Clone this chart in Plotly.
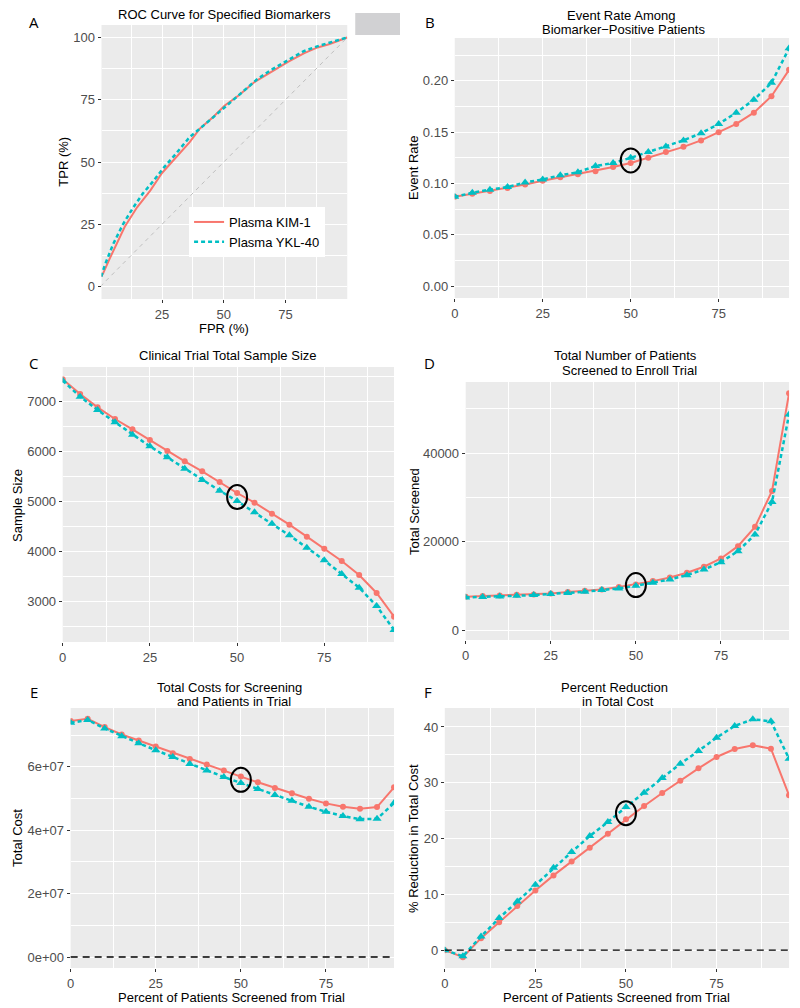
import plotly.graph_objects as go

# ROC curves (panel A)
fpr_kim = [0.4, 1.2, 3.9, 7.2, 9.9, 14.9, 20.3, 25, 30.4, 36.2, 40.2, 45.6, 50.4, 56, 62.7, 69.2, 76, 82.6, 88, 92.6, 100]
tpr_kim = [4, 5.4, 11.4, 18.7, 24, 31.8, 38.6, 45.6, 51.6, 58, 63.3, 68, 72.7, 76.7, 82.3, 86.3, 90.2, 93.7, 96, 97.3, 100]
fpr_ykl = [0.4, 1.8, 5.2, 9.2, 13.2, 17.2, 21.2, 25.5, 30.6, 36.2, 41.9, 47.3, 52.7, 58.1, 63.5, 68.9, 75, 82.4, 87.8, 95.9, 100]
tpr_ykl = [4, 8.5, 17, 25, 31.5, 37.3, 42, 47.5, 53.3, 60, 64.7, 69.3, 74, 78.7, 83.2, 86.8, 90.4, 94.5, 96.4, 98.7, 100]
chance = [0, 100]

# percent of patients screened from trial (panels B-F)
screened = [0, 5, 10, 15, 20, 25, 30, 35, 40, 45, 50, 55, 60, 65, 70, 75, 80, 85, 90, 95]

event_kim = [0.087, 0.090, 0.0927, 0.0956, 0.099, 0.1027, 0.106, 0.109, 0.112, 0.116, 0.120, 0.125,
             0.1306, 0.1357, 0.142, 0.150, 0.158, 0.169, 0.185, 0.2107]
event_ykl = [0.087, 0.091, 0.094, 0.0966, 0.101, 0.104, 0.108, 0.111, 0.117, 0.120, 0.125, 0.1306,
             0.136, 0.142, 0.149, 0.158, 0.169, 0.1816, 0.198, 0.2316]

size_kim = [7433, 7140, 6873, 6640, 6433, 6220, 6000, 5793, 5593, 5380, 5160, 4967, 4747, 4527,
            4287, 4047, 3800, 3520, 3160, 2687]
size_ykl = [7407, 7087, 6820, 6573, 6327, 6093, 5873, 5647, 5420, 5207, 5000, 4773, 4547, 4313,
            4067, 3813, 3540, 3267, 2900, 2420]

scr_kim = [7520, 7670, 7820, 7970, 8050, 8270, 8570, 8870, 9170, 9700, 10300, 11050, 11880, 12930,
           14290, 16170, 18950, 23310, 31430, 53530]
scr_ykl = [7370, 7440, 7590, 7740, 7890, 8120, 8350, 8650, 9020, 9400, 10000, 10680, 11430, 12400,
           13680, 15340, 17820, 21580, 28950, 48720]

cost_kim = [7.447e7, 7.52e7, 7.257e7, 7.025e7, 6.834e7, 6.644e7, 6.433e7, 6.254e7, 6.074e7, 5.884e7,
            5.694e7, 5.514e7, 5.335e7, 5.166e7, 4.997e7, 4.849e7, 4.743e7, 4.68e7, 4.733e7, 5.356e7]
cost_ykl = [7.394e7, 7.479e7, 7.215e7, 6.972e7, 6.75e7, 6.528e7, 6.317e7, 6.095e7, 5.884e7, 5.683e7,
            5.493e7, 5.303e7, 5.113e7, 4.933e7, 4.743e7, 4.585e7, 4.447e7, 4.352e7, 4.363e7, 4.859e7]

red_kim = [0, -1.26, 2.15, 5.02, 7.89, 10.7, 13.4, 15.9, 18.36, 20.87, 23.44, 25.83, 28.16, 30.37,
           32.59, 34.62, 36.05, 36.71, 36.11, 27.74]
red_ykl = [0, -1.08, 2.45, 5.74, 8.73, 11.72, 14.77, 17.58, 20.45, 22.96, 25.65, 28.22, 30.85, 33.42,
           35.7, 38.09, 40.18, 41.38, 41.02, 34.32]

cost_ticks = [0, 2e7, 4e7, 6e7]
cost_labels = ["0e+00", "2e+07", "4e+07", "6e+07"]

RED = "#F8766D"
TEAL = "#00BFC4"
FONT = "Liberation Sans, Arial, sans-serif"
W, H = 800, 1008


def px(x):
    return x / W


def py(y):
    return 1 - y / H


# plot areas in pixels: (left, right, top, bottom)
boxes = {
    1: (98, 345, 25, 299),
    2: (453, 789, 38, 298),
    3: (59, 392, 367, 642),
    4: (464, 789, 382, 640),
    5: (67, 392, 708, 968),
    6: (443, 789, 708, 968),
}

fig = go.Figure()

# panel A
fig.add_trace(go.Scatter(x=chance, y=chance, mode="lines", showlegend=False,
                         line=dict(color="#BEBEBE", width=1, dash="4px,4px"), xaxis="x", yaxis="y"))
fig.add_trace(go.Scatter(x=fpr_kim, y=tpr_kim, mode="lines", name="Plasma KIM-1",
                         line=dict(color=RED, width=2), xaxis="x", yaxis="y"))
fig.add_trace(go.Scatter(x=fpr_ykl, y=tpr_ykl, mode="lines", name="Plasma YKL-40",
                         line=dict(color=TEAL, width=2.5, dash="4px,3px"), xaxis="x", yaxis="y"))

series = [
    (2, event_kim, event_ykl),
    (3, size_kim, size_ykl),
    (4, scr_kim, scr_ykl),
    (5, cost_kim, cost_ykl),
    (6, red_kim, red_ykl),
]
for n, kim, ykl in series:
    fig.add_trace(go.Scatter(x=screened, y=kim, mode="lines+markers", showlegend=False,
                             line=dict(color=RED, width=2), marker=dict(symbol="circle", size=6, color=RED),
                             xaxis=f"x{n}", yaxis=f"y{n}"))
    fig.add_trace(go.Scatter(x=screened, y=ykl, mode="lines+markers", showlegend=False,
                             line=dict(color=TEAL, width=2.5, dash="4px,3px"),
                             marker=dict(symbol="triangle-up", size=8, color=TEAL),
                             xaxis=f"x{n}", yaxis=f"y{n}"))
    # black ellipse around the 50% point
    i = screened.index(50)
    fig.add_shape(type="circle", xref=f"x{n}", yref=f"y{n}", xsizemode="pixel", ysizemode="pixel",
                  xanchor=50, yanchor=(kim[i] + ykl[i]) / 2, x0=-10, x1=10, y0=-12, y1=12,
                  line=dict(color="black", width=2))

# dashed zero lines in E and F
for n in (5, 6):
    fig.add_shape(type="line", xref=f"x{n} domain", yref=f"y{n}", x0=0, x1=1, y0=0, y1=0,
                  line=dict(color="black", width=1.3, dash="7px,5px"))

# stray grey box at top right of panel A
fig.add_shape(type="rect", xref="paper", yref="paper", x0=px(353), x1=px(398), y0=py(35), y1=py(13),
              fillcolor="#D1D1D3", line=dict(width=0), layer="below")

axis_common = dict(showgrid=True, gridcolor="white", gridwidth=1.1, zeroline=False, showline=False,
                   ticks="outside", ticklen=3, tickwidth=1, tickcolor="#333333",
                   tickfont=dict(family=FONT, size=13, color="#4D4D4D"))

yranges = {
    1: ([-5, 105], dict(tickvals=[0, 25, 50, 75, 100]), 12.5),
    2: ([-0.0115, 0.2417], dict(tickvals=[0, 0.05, 0.10, 0.15, 0.20], tickformat=".2f"), 0.025),
    3: ([2180, 7680], dict(tickvals=[3000, 4000, 5000, 6000, 7000]), 500),
    4: ([-2260, 56050], dict(tickvals=[0, 20000, 40000], tickformat="d"), 10000),
    5: ([-3.47e6, 7.86e7], dict(tickvals=cost_ticks, ticktext=cost_labels), 1e7),
    6: ([-3.2, 43.4], dict(tickvals=[0, 10, 20, 30, 40]), 5),
}

layout_axes = {}
for n, (l, r, t, b) in boxes.items():
    sx = "" if n == 1 else str(n)
    xr = [0.5, 100] if n == 1 else [0, 95]
    xt = [25, 50, 75] if n == 1 else [0, 25, 50, 75]
    layout_axes[f"xaxis{sx}"] = dict(axis_common, domain=[px(l), px(r)], range=xr, tickvals=xt,
                                     anchor=f"y{sx}",
                                     minor=dict(tick0=12.5, dtick=25, showgrid=True, gridcolor="white",
                                                gridwidth=0.5, ticks=""))
    rng, tk, mn = yranges[n]
    layout_axes[f"yaxis{sx}"] = dict(axis_common, domain=[py(b), py(t)], range=rng, anchor=f"x{sx}",
                                     minor=dict(tick0=mn, dtick=2 * mn, showgrid=True, gridcolor="white",
                                                gridwidth=0.5, ticks=""),
                                     **tk)

texts = []


def note(text, x, y, size=13, angle=0, font=FONT):
    texts.append(dict(text=text, x=px(x), y=py(y), xref="paper", yref="paper", showarrow=False,
                      xanchor="center", yanchor="middle", textangle=angle, align="center",
                      font=dict(family=font, size=size, color="black")))


# titles (each line placed on its own, as in the original)
note("ROC Curve for Specified Biomarkers", 222, 15)
note("Event Rate Among", 620, 16)
note("Biomarker−Positive Patients", 623, 29)
note("Clinical Trial Total Sample Size", 225, 355)
note("Total Number of Patients", 625, 355)
note("Screened to Enroll Trial", 629, 370)
note("Total Costs for Screening", 227, 687)
note("and Patients in Trial", 231, 701)
note("Percent Reduction", 614, 687)
note("in Total Cost", 617, 701)

# axis titles
note("FPR (%)", 221, 329)
note("TPR (%)", 60, 162, angle=-90)
note("Event Rate", 412, 168, angle=-90)
note("Sample Size", 13, 505, angle=-90)
note("Total Screened", 412, 511, angle=-90)
note("Total Cost", 13, 838, angle=-90)
note("% Reduction in Total Cost", 411, 838, angle=-90)
note("Percent of Patients Screened from Trial", 229, 997)
note("Percent of Patients Screened from Trial", 616, 997)

# panel letters
for letter, x, y in [("A", 30, 22), ("B", 428, 22), ("C", 30, 363), ("D", 428, 363),
                     ("E", 30, 692), ("F", 426, 692)]:
    note(letter, x, y, size=15, font="Open Sans, sans-serif")

fig.update_layout(
    width=W, height=H,
    margin=dict(l=0, r=0, t=0, b=0),
    paper_bgcolor="white",
    plot_bgcolor="#EBEBEB",
    font=dict(family=FONT, size=13, color="black"),
    showlegend=True,
    legend=dict(x=px(186), y=py(207), xanchor="left", yanchor="top", bgcolor="white",
                font=dict(family=FONT, size=13, color="black"), tracegroupgap=0,
                itemwidth=30),
    annotations=texts,
    **layout_axes,
)

fig.write_html("out.html", config={"displayModeBar": False},
               post_script="document.body.style.margin='0px';")
